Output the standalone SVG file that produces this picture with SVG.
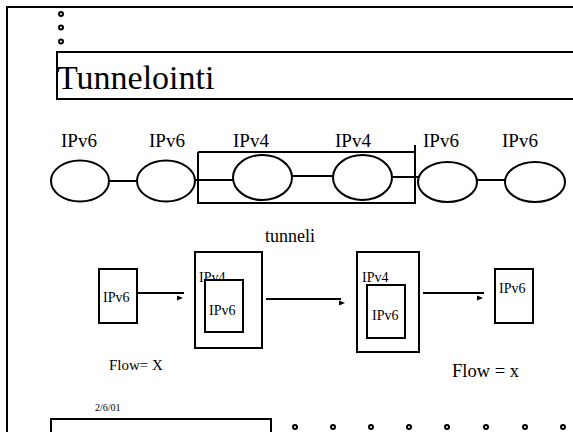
<svg xmlns="http://www.w3.org/2000/svg" width="573" height="432" viewBox="0 0 573 432" font-family="'Liberation Serif', 'Times New Roman', serif">
<style>
.ln{stroke:#000;stroke-width:2;fill:none}
.bx{stroke:#000;stroke-width:2;fill:#fff}
.el{stroke:#000;stroke-width:2;fill:#fff}
.dot{stroke:#000;stroke-width:2;fill:#fff}
text{font-family:'Liberation Serif','Times New Roman',serif;fill:#000}
.lbl{font-size:19px}
.sm{font-size:14px}
</style>
<g id="frame">
<path class="ln" d="M7,432 V7 H573"/>
<circle class="dot" cx="61" cy="14" r="2"/>
<circle class="dot" cx="61" cy="27.5" r="2"/>
<circle class="dot" cx="61" cy="41.5" r="2"/>
</g>
<g id="title">
<path class="ln" d="M573,52 H57 V99 H573"/>
<text x="57" y="89" font-size="34">Tunnelointi</text>
</g>
<g id="tunnel-box">
<path class="ln" d="M198,152 H415 M415,145 V203 H198 V152"/>
</g>
<g id="connectors">
<line class="ln" x1="109" y1="181" x2="137" y2="181"/>
<line class="ln" x1="195" y1="180" x2="233" y2="180"/>
<line class="ln" x1="292" y1="176" x2="333" y2="176"/>
<line class="ln" x1="392" y1="177" x2="418" y2="177"/>
<line class="ln" x1="477" y1="180" x2="505" y2="180"/>
<line class="ln" x1="137" y1="293" x2="184" y2="293"/>
<path d="M177,295.5 L183,298 L177,300.5 Z" fill="#000"/>
<line class="ln" x1="266" y1="299" x2="341" y2="299"/>
<path d="M339,300.5 L345,303 L339,305.5 Z" fill="#000"/>
<line class="ln" x1="423" y1="293" x2="484" y2="293"/>
<path d="M477,295.5 L483,298 L477,300.5 Z" fill="#000"/>
</g>
<g id="n1"><ellipse class="el" cx="80" cy="181" rx="29" ry="20.5"/><text class="lbl" x="61" y="147">IPv6</text></g>
<g id="n2"><ellipse class="el" cx="166" cy="181" rx="29" ry="20.5"/><text class="lbl" x="149" y="147">IPv6</text></g>
<g id="n3"><ellipse class="el" cx="262.5" cy="177.5" rx="29.5" ry="22.5"/><text class="lbl" x="233" y="147">IPv4</text></g>
<g id="n4"><ellipse class="el" cx="362.5" cy="177.5" rx="29.5" ry="22.5"/><text class="lbl" x="335" y="147">IPv4</text></g>
<g id="n5"><ellipse class="el" cx="447.5" cy="182" rx="29.5" ry="20"/><text class="lbl" x="423" y="147">IPv6</text></g>
<g id="n6"><ellipse class="el" cx="535" cy="182" rx="30" ry="20"/><text class="lbl" x="502" y="147">IPv6</text></g>
<g id="tunneli-label"><text x="265" y="242" font-size="18">tunneli</text></g>
<g id="p1"><rect class="bx" x="99" y="269" width="38" height="54"/><text class="sm" x="103" y="302">IPv6</text></g>
<g id="p2">
<rect class="bx" x="195" y="252" width="67" height="96"/>
<text class="sm" x="199" y="282">IPv4</text>
<rect class="bx" x="205" y="280" width="38" height="52"/>
<text class="sm" x="209" y="315">IPv6</text>
</g>
<g id="p3">
<rect class="bx" x="357" y="252" width="62" height="100"/>
<text class="sm" x="362" y="282">IPv4</text>
<rect class="bx" x="367" y="285" width="38" height="53"/>
<text class="sm" x="372" y="320">IPv6</text>
</g>
<g id="p4"><rect class="bx" x="495" y="269" width="38" height="54"/><text class="sm" x="499" y="293">IPv6</text></g>
<g id="flow1"><text x="109" y="370" font-size="15">Flow= X</text></g>
<g id="flow2"><text x="452" y="377" font-size="18.5">Flow = x</text></g>
<g id="footer">
<text x="95" y="411" font-size="10">2/6/01</text>
<path class="ln" d="M51,433 V419 H271 V433"/>
<circle class="dot" cx="295" cy="427" r="2"/>
<circle class="dot" cx="333" cy="427" r="2"/>
<circle class="dot" cx="371" cy="427" r="2"/>
<circle class="dot" cx="409" cy="427" r="2"/>
<circle class="dot" cx="447" cy="427" r="2"/>
<circle class="dot" cx="486" cy="427" r="2"/>
<circle class="dot" cx="525" cy="427" r="2"/>
<circle class="dot" cx="563" cy="427" r="2"/>
</g>
</svg>
